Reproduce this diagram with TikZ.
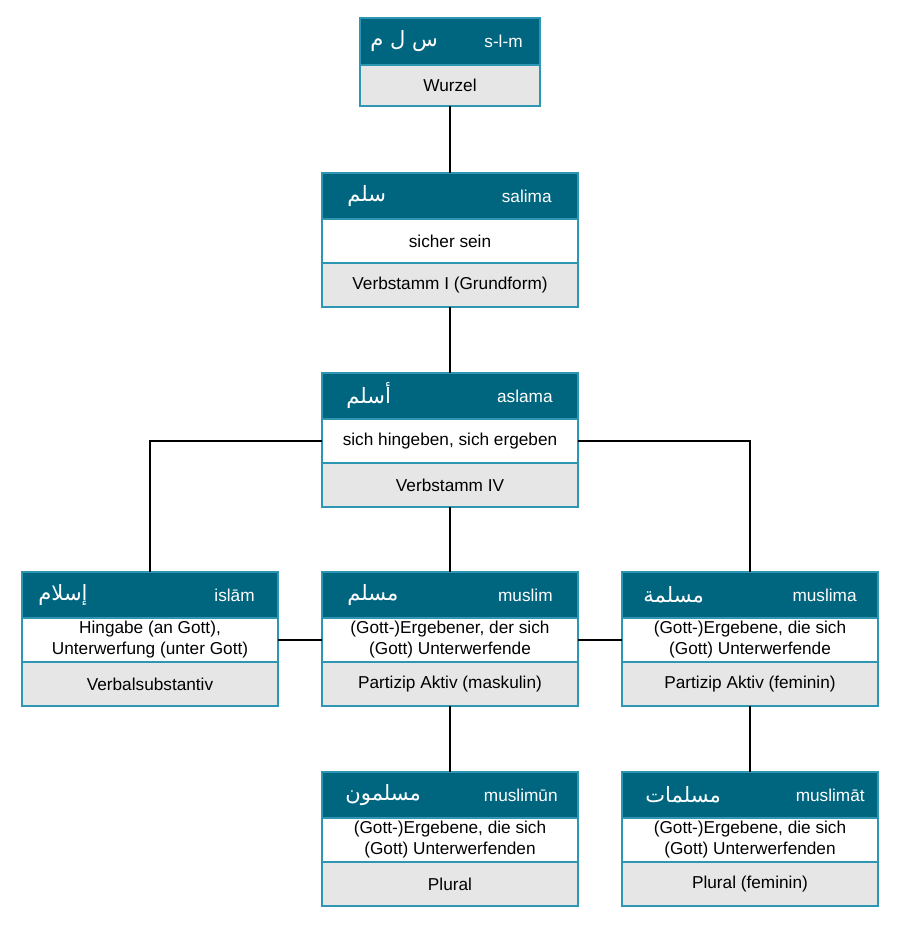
\documentclass[tikz,border=0pt]{standalone}
\usepackage{fontspec}
\setmainfont{Liberation Sans}
\newfontfamily\arabicfont[Script=Arabic]{DejaVu Sans}
\TeXXeTstate=1
\usetikzlibrary{positioning}
\definecolor{headteal}{RGB}{0,102,128}
\definecolor{edgeteal}{RGB}{45,150,178}
\definecolor{formgrey}{RGB}{230,230,230}
\tikzset{
  head/.style={draw=edgeteal, line width=0.8pt, fill=headteal,
               minimum width=5.12cm, minimum height=0.92cm,
               inner sep=0pt, outer sep=0pt},
  meaning/.style={draw=edgeteal, line width=0.8pt, fill=white,
                  minimum width=5.12cm, minimum height=0.88cm,
                  inner sep=0pt, outer sep=0pt, align=center,
                  font=\fontsize{9.8}{12}\selectfont},
  form/.style={meaning, fill=formgrey},
  arab/.style={text=white, anchor=west, inner sep=0pt,
               font=\arabicfont\fontsize{12}{14}\selectfont},
  translit/.style={text=white, anchor=east, inner sep=0pt,
                   font=\fontsize{9.8}{12}\selectfont},
  link/.style={black, line width=1.5pt},
}

\begin{document}
\begin{tikzpicture}[x=0.02cm,y=-0.02cm]
  \useasboundingbox[fill=white] (0,0) rectangle (900,940);

  % root
  \node[head, minimum width=3.6cm, minimum height=0.94cm] (rootH) at (450,41.5) {};
  \node[arab] at ([xshift=0.2cm]rootH.west) {\beginR س ل م\endR};
  \node[translit] at ([xshift=-0.34cm]rootH.east) {s-l-m};
  \node[form, minimum width=3.6cm, minimum height=0.82cm, below=0pt of rootH] (rootF) {Wurzel};

  % stem I
  \node[head] (salimaH) at (450,196) {};
  \node[arab] at ([xshift=0.5cm]salimaH.west) {\beginR سلم\endR};
  \node[translit] at ([xshift=-0.52cm]salimaH.east) {salima};
  \node[meaning, below=0pt of salimaH] (salimaM) {sicher sein};
  \node[form, below=0pt of salimaM] (salimaF) {Verbstamm I (Grundform)};

  % stem IV
  \node[head] (aslamaH) at (450,396) {};
  \node[arab] at ([xshift=0.48cm]aslamaH.west) {\beginR أسلم\endR};
  \node[translit] at ([xshift=-0.5cm]aslamaH.east) {aslama};
  \node[meaning, below=0pt of aslamaH] (aslamaM) {sich hingeben, sich ergeben};
  \node[form, below=0pt of aslamaM] (aslamaF) {Verbstamm IV};

  % verbal noun
  \node[head] (islamH) at (150,595) {};
  \node[arab] at ([xshift=0.32cm]islamH.west) {\beginR إسلام\endR};
  \node[translit] at ([xshift=-0.46cm]islamH.east) {islām};
  \node[meaning, below=0pt of islamH] (islamM) {Hingabe (an Gott),\\Unterwerfung (unter Gott)};
  \node[form, below=0pt of islamM] (islamF) {Verbalsubstantiv};

  % active participle masculine
  \node[head] (muslimH) at (450,595) {};
  \node[arab] at ([xshift=0.5cm]muslimH.west) {\beginR مسلم\endR};
  \node[translit] at ([xshift=-0.5cm]muslimH.east) {muslim};
  \node[meaning, below=0pt of muslimH] (muslimM) {(Gott-)Ergebener, der sich\\(Gott) Unterwerfende};
  \node[form, below=0pt of muslimM] (muslimF) {Partizip Aktiv (maskulin)};

  % active participle feminine
  \node[head] (muslimaH) at (750,595) {};
  \node[arab] at ([xshift=0.42cm]muslimaH.west) {\beginR مسلمة\endR};
  \node[translit] at ([xshift=-0.42cm]muslimaH.east) {muslima};
  \node[meaning, below=0pt of muslimaH] (muslimaM) {(Gott-)Ergebene, die sich\\(Gott) Unterwerfende};
  \node[form, below=0pt of muslimaM] (muslimaF) {Partizip Aktiv (feminin)};

  % plural
  \node[head] (muslimunH) at (450,795) {};
  \node[arab] at ([xshift=0.46cm]muslimunH.west) {\beginR مسلمون\endR};
  \node[translit] at ([xshift=-0.4cm]muslimunH.east) {muslimūn};
  \node[meaning, below=0pt of muslimunH] (muslimunM) {(Gott-)Ergebene, die sich\\(Gott) Unterwerfenden};
  \node[form, below=0pt of muslimunM] (muslimunF) {Plural};

  % plural feminine
  \node[head] (muslimatH) at (750,795) {};
  \node[arab] at ([xshift=0.46cm]muslimatH.west) {\beginR مسلمات\endR};
  \node[translit] at ([xshift=-0.26cm]muslimatH.east) {muslimāt};
  \node[meaning, below=0pt of muslimatH] (muslimatM) {(Gott-)Ergebene, die sich\\(Gott) Unterwerfenden};
  \node[form, below=0pt of muslimatM] (muslimatF) {Plural (feminin)};

  % connectors
  \draw[link] (rootF) -- (salimaH);
  \draw[link] (salimaF) -- (aslamaH);
  \draw[link] (aslamaF) -- (muslimH);
  \draw[link] (aslamaM.west) -| (islamH.north);
  \draw[link] (aslamaM.east) -| (muslimaH.north);
  \draw[link] (islamM) -- (muslimM);
  \draw[link] (muslimM) -- (muslimaM);
  \draw[link] (muslimF) -- (muslimunH);
  \draw[link] (muslimaF) -- (muslimatH);
\end{tikzpicture}
\end{document}
